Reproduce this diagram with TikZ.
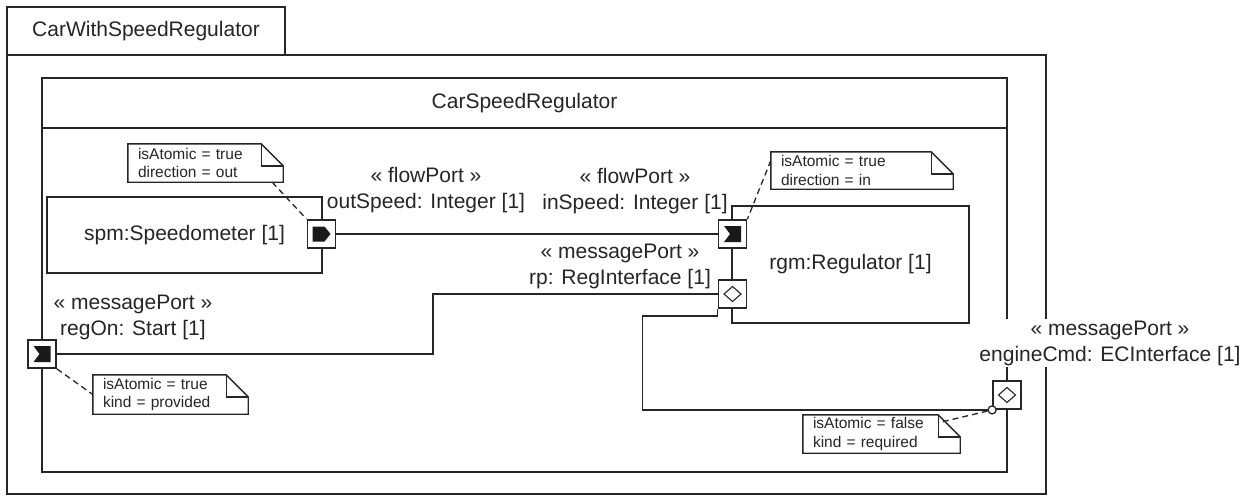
\documentclass[tikz,border=0pt]{standalone}
\usepackage{fontspec}
\setmainfont{Liberation Sans}
\usetikzlibrary{calc}
\newcommand\cmainfont{\fontsize{21pt}{26pt}\selectfont}
\newcommand\cnotefont{\fontsize{15.5pt}{18.5pt}\selectfont}
\begin{document}
\begin{tikzpicture}[x=1pt,y=-1pt,
  ink/.style={draw=black!85,line width=1.6pt},
  box/.style={ink,fill=white,inner sep=0pt,font=\cmainfont,text=black!85},
  port/.style={draw=black!85,fill=white,minimum size=28pt,inner sep=0pt,line width=1.8pt},
  notebox/.style={inner xsep=10pt,inner ysep=0pt,align=left,font=\cnotefont,text=black!85},
  lbl/.style={align=center,font=\cmainfont,text=black!85,inner sep=0pt},
  wire/.style={draw=black!85,line width=1.6pt},
  dashwire/.style={draw=black!85,line width=1.3pt,dash pattern=on 6pt off 4pt},
  sym/.style={fill=black!90},
  diam/.style={draw=black!85,line width=1.1pt},
]
\useasboundingbox (0,0) rectangle (1246,496);
\fill[white] (0,0) rectangle (1246,496);

% frames
\node[box,minimum width=1039pt,minimum height=439pt] (frame) at (526.5,274.5) {};
\node[box,minimum width=278pt,minimum height=48pt] (tab) at (146,31) {CarWithSpeedRegulator};
\node[box,minimum width=965pt,minimum height=394pt] (csr) at (524.5,275) {};
\draw[wire] ([yshift=-51pt]csr.north west) -- ([yshift=-51pt]csr.north east);
\node[lbl] (csrTitle) at (524.5,103) {CarSpeedRegulator};

% parts
\node[box,minimum width=275pt,minimum height=76pt] (spm) at (184.5,235) {spm:Speedometer [1]};
\node[box,minimum width=237pt,minimum height=117pt] (rgm) at (850.5,264.5) {rgm:Regulator [1]};

% ports
\node[port] (outP) at (321.5,234) {};
\node[port] (inP) at (732.5,234) {};
\node[port] (rp) at (732.5,294) {};
\node[port] (regOn) at (42,354) {};
\node[port] (eng) at (1007,395) {};

\fill[sym] (outP.center) ++(-9,-7.5) -- ++(12,0) -- ++(6,7.5) -- ++(-6,7.5) -- ++(-12,0) -- cycle;
\foreach \p in {inP,regOn}
  \fill[sym] (\p.center) ++(-8.5,-8) -- ++(17,0) -- ++(0,16) -- ++(-17,0) -- ++(6,-8) -- cycle;
\foreach \p in {rp,eng}
  \draw[diam] (\p.center) ++(-8.5,0) -- ++(8.5,-7.5) -- ++(8.5,7.5) -- ++(-8.5,7.5) -- cycle;

% connectors
\draw[wire] (outP.east) -- (inP.west);
\draw[wire] (regOn.east) -- ++(376,0) |- (rp.west);
\draw[wire] (rp.south west) -- ++(0,7) -- ++(-75,0) |- (eng.south west);

% port labels
\node[lbl] (outLbl) at (426,190) {« flowPort »\\outSpeed: Integer [1]};
\node[lbl] (inLbl) at (635,191) {« flowPort »\\inSpeed: Integer [1]};
\node[lbl] (rpLbl) at (620,266) {« messagePort »\\rp: RegInterface [1]};
\node[lbl] (regLbl) at (133,317) {« messagePort »\\regOn: Start [1]};
\node[lbl,fill=white,inner ysep=2pt] (engLbl) at (1110,343) {« messagePort »\\engineCmd: ECInterface [1]};

% notes
\node[notebox,text width=135pt,minimum height=38pt] (nOut) at (205.5,163) {isAtomic = true\\direction = out};
\node[notebox,text width=162pt,minimum height=37pt] (nIn) at (862,170.5) {isAtomic = true\\direction = in};
\node[notebox,text width=135pt,minimum height=39pt] (nReg) at (170.5,394.5) {isAtomic = true\\kind = provided};
\node[notebox,text width=137pt,minimum height=38pt] (nEng) at (881.5,434) {isAtomic = false\\kind = required};
\foreach \n in {nOut,nIn,nReg,nEng}{
  \draw[ink,line width=1.4pt] (\n.north west) -- ([xshift=-22pt]\n.north east) -- ([yshift=-22pt]\n.north east) -- (\n.south east) -- (\n.south west) -- cycle;
  \draw[ink,line width=1.4pt] ([xshift=-22pt]\n.north east) |- ([yshift=-22pt]\n.north east);
}

% note anchors
\draw[dashwire] ([xshift=-11pt]nOut.south east) -- (outP.north west);
\draw[dashwire] ([yshift=10pt]nIn.west) -- (inP.north east);
\draw[dashwire] (regOn.south east) -- (nReg.west);
\node[draw=black!85,line width=1.3pt,circle,minimum size=8pt,inner sep=0pt,fill=white] (engC) at (eng.south west) {};
\draw[dashwire] (engC) -- ([xshift=-22pt,yshift=-8pt]nEng.north east);
\end{tikzpicture}
\end{document}
